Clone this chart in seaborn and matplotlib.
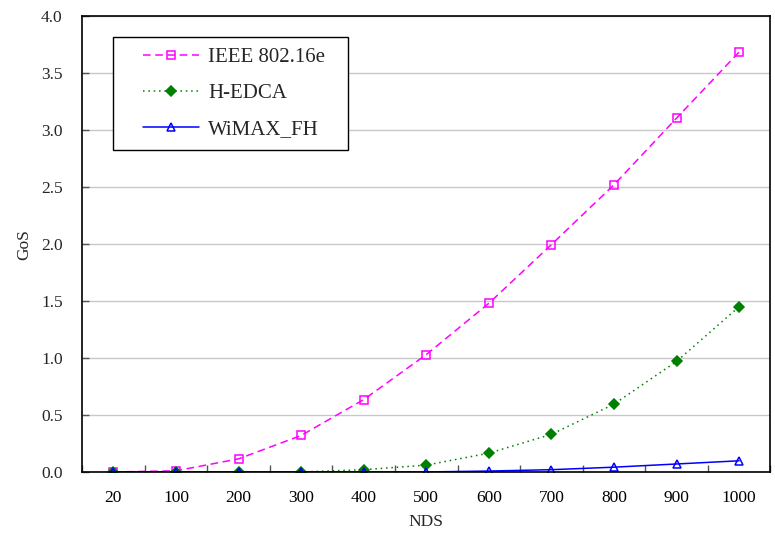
import matplotlib
matplotlib.use("Agg")
import matplotlib.pyplot as plt
import numpy as np
import pandas as pd
import seaborn as sns
from matplotlib.patches import Rectangle
from matplotlib.ticker import FixedLocator
from matplotlib.transforms import IdentityTransform

nds = ["20", "100", "200", "300", "400", "500", "600", "700", "800", "900", "1000"]
ieee = [0.0, 0.01, 0.115, 0.32, 0.635, 1.03, 1.48, 1.995, 2.52, 3.105, 3.685]
hedca = [0.0, 0.0, 0.0, 0.0, 0.02, 0.06, 0.165, 0.33, 0.595, 0.97, 1.45]
wimax = [0.0, 0.0, 0.0, 0.0, 0.0, 0.0, 0.008, 0.02, 0.042, 0.07, 0.098]

sns.set_theme(style="white")
plt.rcParams['font.family'] = ['Liberation Serif', 'DejaVu Serif']

fig = plt.figure(figsize=(7.75, 5.4), dpi=100)
ax = fig.add_axes([0.106, 0.126, 0.888, 0.844])

series = [
    ("IEEE 802.16e", ieee, "#ff00ff", (0, (5, 3)), "s", "none"),
    ("H-EDCA", hedca, "#008000", (0, (1, 2.5)), "D", "#008000"),
    ("WiMAX_FH", wimax, "#0000ff", "-", "^", "none"),
]
for name, vals, color, ls, marker, mfc in series:
    df = pd.DataFrame({"NDS": nds, "GoS": vals})
    sns.lineplot(data=df, x="NDS", y="GoS", ax=ax, color=color, linestyle=ls,
                 linewidth=1.1, marker=marker, markersize=6 if marker != "D" else 5,
                 markerfacecolor=mfc, markeredgecolor=color, markeredgewidth=1.1,
                 label=name)

ax.set_xlim(-0.5, len(nds) - 0.5)
ax.set_ylim(0, 4.0)
ax.set_yticks(np.arange(0, 4.01, 0.5))
ax.set_yticklabels([f"{v:.1f}" for v in np.arange(0, 4.01, 0.5)])
ax.yaxis.grid(True, color="#c8c8c8", linewidth=1)
ax.xaxis.grid(False)
ax.xaxis.set_minor_locator(FixedLocator(np.arange(-0.5, len(nds), 1.0)))
ax.tick_params(axis="x", which="major", length=0, labelsize=12.5, pad=13, colors="black")
ax.tick_params(axis="x", which="minor", length=5, direction="in", width=1, color="#555555", bottom=True)
ax.tick_params(axis="y", which="major", length=5, direction="in", labelsize=12.5, pad=14,
               width=1, color="#555555", left=True)
for s in ax.spines.values():
    s.set_color("black")
    s.set_linewidth(1.2)

ax.set_xlabel("NDS", fontsize=12.5, labelpad=6)
ax.set_ylabel("GoS", fontsize=12.5, labelpad=6)

# legend with a wider frame than matplotlib's symmetric padding allows
leg = ax.legend(loc="upper left", bbox_to_anchor=(0.0727, 0.954), borderaxespad=0, fontsize=15,
                frameon=True, fancybox=False, handlelength=2.7,
                handletextpad=0.45, borderpad=0.5, labelspacing=0.79)
leg.get_frame().set_visible(False)
fig.canvas.draw()
bb = leg.get_window_extent()
frame = Rectangle((bb.x0 - 19, bb.y0), bb.width + 31, bb.height, transform=IdentityTransform(),
                  fill=True, facecolor="white", edgecolor="black", linewidth=1.0, zorder=4)
fig.add_artist(frame)
leg.set_zorder(5)
fig.add_artist(leg)

fig.savefig("out.png", dpi=100)
